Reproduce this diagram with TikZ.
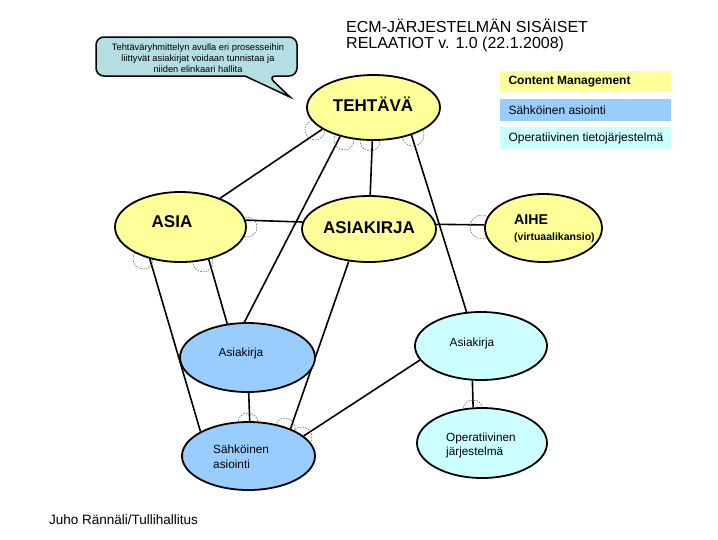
\documentclass[tikz,border=0pt]{standalone}
\usepackage{fontspec}
\setmainfont{Liberation Sans}
\usetikzlibrary{shapes.geometric,backgrounds}
\definecolor{cmy}{HTML}{FFFF99}
\definecolor{seb}{HTML}{99CCFF}
\definecolor{opc}{HTML}{CCFFFF}
\definecolor{callc}{RGB}{180,222,226}
\begin{document}
\begin{tikzpicture}[x=1pt,y=-1pt,
  ent/.style={ellipse, draw=black, line width=1.8pt, inner sep=0pt},
  conn/.style={draw=black, line width=1.6pt},
  cardmark/.style={draw=black!65, line width=0.5pt, dash pattern=on 1.6pt off 1.2pt},
  big/.style={font=\fontsize{17}{19}\selectfont\bfseries},
  small/.style={font=\fontsize{11.8}{14.5}\selectfont, align=left},
  legend/.style={font=\fontsize{12}{14}\selectfont, anchor=west},
]
\useasboundingbox (0,0) rectangle (718,539);

% entities
\node[ent, fill=cmy, minimum width=133, minimum height=65] (teh) at (373.5,107.5) {};
\node[ent, fill=cmy, minimum width=131, minimum height=70] (asia) at (180.5,227) {};
\node[ent, fill=cmy, minimum width=134, minimum height=66] (akirja) at (369,229) {};
\node[ent, fill=cmy, minimum width=117, minimum height=68] (aihe) at (543.5,228) {};
\node[ent, fill=seb, minimum width=135, minimum height=69] (bdoc) at (247.5,357.5) {};
\node[ent, fill=seb, minimum width=133, minimum height=68] (seas) at (248.5,456) {};
\node[ent, fill=opc, minimum width=132, minimum height=68] (cdoc) at (481,346) {};
\node[ent, fill=opc, minimum width=130, minimum height=70] (opj) at (482,443) {};

% entity texts
\node[big] (tehT) at (373,104) {TEHTÄVÄ};
\node[big] (asiaT) at (172,222) {ASIA};
\node[big] (akirjaT) at (369,228) {ASIAKIRJA};
\node[font=\fontsize{14.2}{16}\selectfont\bfseries, anchor=west, inner sep=0pt] (aiheT) at (514,220) {AIHE};
\node[font=\fontsize{10.5}{12}\selectfont\bfseries, anchor=west, inner sep=0pt] (aiheS) at (514,238) {(virtuaalikansio)};
\node[small] (bdocT) at (241,353) {Asiakirja};
\node[small, anchor=west, inner sep=0pt] (seasT) at (213,457) {Sähköinen\\asiointi};
\node[small] (cdocT) at (472,343) {Asiakirja};
\node[small, anchor=west, inner sep=0pt] (opjT) at (446,445.5) {Operatiivinen\\järjestelmä};

\begin{pgfonlayer}{background}
% connectors
\draw[conn] (teh.-157) -- (asia.36);
\draw[conn] (teh.-92) -- (akirja.88);
\draw[conn] (teh.-139) -- (bdoc.95);
\draw[conn] (teh.-36) -- (cdoc.113);
\draw[conn] (asia.6) -- (akirja.174);
\draw[conn] (akirja.4) -- (aihe.177);
\draw[conn] (asia.-134) -- (seas.153);
\draw[conn] (asia.-49) -- (bdoc.121);
\draw[conn] (akirja.-122) -- (seas.33);
\draw[conn] (bdoc.-88) -- (seas.88);
\draw[conn] (cdoc.-167) -- (seas.20);
\draw[conn] (cdoc.-104) -- (opj.104);
% cardinality marks
\foreach \p/\r in {{(315,130)}/10,{(344,140)}/10,{(370,141)}/10,{(413,135)}/11,
                   {(247,227)}/10,{(143,259)}/10,{(203,262)}/10,{(482,227)}/12,
                   {(248,423)}/10,{(285,428)}/10,{(302,437)}/10,{(473,410)}/10}
  \draw[cardmark] \p circle[radius=\r];
\end{pgfonlayer}

% callout
\draw[fill=callc, line width=1.5pt] (96,56) [rounded corners=8] |- (297,37) |- (268,76) [sharp corners] -- (290,97) -- (245,76) [rounded corners=8] -| (96,56) -- cycle;
\node[font=\fontsize{9.3}{11}\selectfont, align=center] (callT) at (198,58)
  {Tehtäväryhmittelyn avulla eri prosesseihin\\liittyvät asiakirjat voidaan tunnistaa ja\\niiden elinkaari hallita};

% legend
\fill[cmy] (500,71) rectangle (671,92);
\fill[seb] (500,99) rectangle (671,121);
\fill[opc] (500,127) rectangle (671,149);
\node[legend, font=\fontsize{12}{14}\selectfont\bfseries] (lg1) at (505,81.5) {Content Management};
\node[legend] (lg2) at (505,110) {Sähköinen asiointi};
\node[legend] (lg3) at (505,138) {Operatiivinen tietojärjestelmä};

% title and footer
\node[anchor=base west, inner sep=0pt, font=\fontsize{16}{18}\selectfont] (title1) at (346,32) {ECM-JÄRJESTELMÄN SISÄISET};
\node[anchor=base west, inner sep=0pt, font=\fontsize{16}{18}\selectfont] (title2) at (346,48) {RELAATIOT v. 1.0 (22.1.2008)};
\node[anchor=base west, inner sep=0pt, font=\fontsize{13.5}{15}\selectfont] (foot) at (49,524) {Juho Rännäli/Tullihallitus};
\end{tikzpicture}
\end{document}
